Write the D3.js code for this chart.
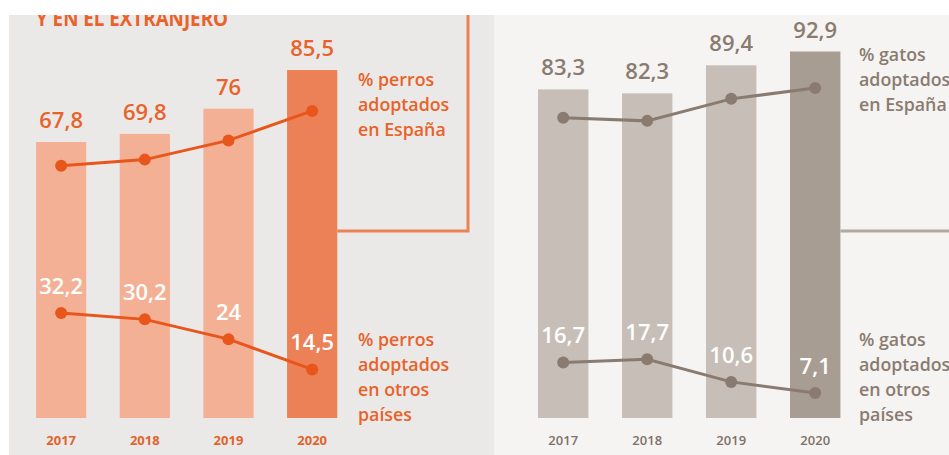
<!DOCTYPE html>
<html>
<head>
<meta charset="utf-8">
<script src="https://cdn.jsdelivr.net/npm/d3@7"></script>
<style>
    body { margin: 0; background: #ffffff; }
    svg text { font-family: "Open Sans", "Noto Sans", sans-serif; }
</style>
</head>
<body>
<div id="chart"></div>
<script>
var W = 949,
    H = 455;

// data
var years = ['2017', '2018', '2019', '2020'];
var perrosEspana = [67.8, 69.8, 76, 85.5];
var perrosOtros = [32.2, 30.2, 24, 14.5];
var gatosEspana = [83.3, 82.3, 89.4, 92.9];
var gatosOtros = [16.7, 17.7, 10.6, 7.1];
var legendEspana = ['adoptados', 'en España'];
var legendOtros = ['adoptados', 'en otros', 'países'];

var svg = d3.select("#chart").append("svg")
    .attr("width", W)
    .attr("height", H);

// panel backgrounds
svg.append("rect").attr("x", 9).attr("y", 0).attr("width", 485).attr("height", H).attr("fill", "#ebe9e7");
svg.append("rect").attr("x", 494).attr("y", 0).attr("width", W - 494).attr("height", H).attr("fill", "#f5f4f2");

// title, clipped at the top
svg.append("text")
    .attr("x", 36)
    .attr("y", 26)
    .attr("textLength", 192)
    .attr("lengthAdjust", "spacingAndGlyphs")
    .style("font-size", "22px")
    .style("font-weight", 700)
    .attr("fill", "#e8622a")
    .text("Y EN EL EXTRANJERO");

// line scales shared by both panels
var yHi = d3.scaleLinear().domain([0, 100]).range([376, 66]);
var yLo = d3.scaleLinear().domain([0, 100]).range([415.7, 96.7]);

/////////////////////////////////////////////////
//////////////// one panel //////////////////////
/////////////////////////////////////////////////
function panel(opt) {
    var x = d3.scaleBand()
        .domain(years)
        .range(opt.xRange)
        .paddingInner(0.4)
        .paddingOuter(0.2);
    var y = d3.scaleLinear().domain([0, 100]).range([418, opt.yTop]);

    var g = svg.append("g");
    var cx = function (d, i) { return x(years[i]) + x.bandwidth() / 2; };

    // bars
    g.selectAll("rect.bar")
        .data(opt.espana)
        .enter()
        .append("rect")
        .attr("x", function (d, i) { return x(years[i]); })
        .attr("y", function (d) { return y(d); })
        .attr("width", x.bandwidth())
        .attr("height", function (d) { return y(0) - y(d); })
        .attr("fill", function (d, i) { return i == 3 ? opt.barDark : opt.bar; });

    // top value labels
    g.selectAll("text.val")
        .data(opt.espana)
        .enter()
        .append("text")
        .attr("x", cx)
        .attr("y", function (d) { return y(d) - 14; })
        .attr("text-anchor", "middle")
        .style("font-size", "22px")
        .style("font-weight", 600)
        .attr("fill", opt.text)
        .text(function (d) { return String(d).replace('.', ','); });

    // lines
    [[opt.espana, yHi], [opt.otros, yLo]].forEach(function (s) {
        var line = d3.line()
            .x(cx)
            .y(function (d) { return s[1](d); });
        g.append("path")
            .datum(s[0])
            .attr("d", line)
            .attr("fill", "none")
            .attr("stroke", opt.line)
            .attr("stroke-width", 3);
        g.selectAll(null)
            .data(s[0])
            .enter()
            .append("circle")
            .attr("cx", cx)
            .attr("cy", function (d) { return s[1](d); })
            .attr("r", 6)
            .attr("fill", opt.line);
    });

    // white labels for the other-countries line
    g.selectAll(null)
        .data(opt.otros)
        .enter()
        .append("text")
        .attr("x", cx)
        .attr("y", function (d) { return yLo(d) - 19; })
        .attr("text-anchor", "middle")
        .style("font-size", "22px")
        .style("font-weight", 600)
        .attr("fill", "#ffffff")
        .text(function (d) { return String(d).replace('.', ','); });

    // years
    g.selectAll(null)
        .data(years)
        .enter()
        .append("text")
        .attr("x", function (d) { return x(d) + x.bandwidth() / 2; })
        .attr("y", 445)
        .attr("text-anchor", "middle")
        .style("font-size", "13px")
        .style("font-weight", opt.yearWeight)
        .attr("fill", opt.yearColor)
        .text(function (d) { return d; });

    // legends
    function legend(lines, y0) {
        var t = g.append("text")
            .attr("y", y0)
            .style("font-size", "17.8px")
            .style("font-weight", 600)
            .attr("fill", opt.text);
        lines.forEach(function (l, i) {
            t.append("tspan").attr("x", opt.legendX).attr("dy", i == 0 ? 0 : 25).text(l);
        });
    }
    legend([opt.legendTitle].concat(legendEspana), opt.legendY);
    legend([opt.legendTitle].concat(legendOtros), 346);

    return x;
}

var xl = panel({
    xRange: [19.3, 354],
    yTop: 11,
    espana: perrosEspana,
    otros: perrosOtros,
    bar: "#f4b094",
    barDark: "#ec8157",
    line: "#e8561c",
    text: "#e8622a",
    yearColor: "#e0642e",
    yearWeight: 700,
    legendX: 358,
    legendY: 86,
    legendTitle: "% perros"
});

var xr = panel({
    xRange: [521.2, 857.2],
    yTop: 23.5,
    espana: gatosEspana,
    otros: gatosOtros,
    bar: "#c6beb7",
    barDark: "#a89d93",
    line: "#8a7b70",
    text: "#8a7b70",
    yearColor: "#7d7168",
    yearWeight: 600,
    legendX: 859,
    legendY: 61,
    legendTitle: "% gatos"
});

// connector lines
svg.append("path")
    .attr("d", "M468,15 V231 H" + (xl('2020') + xl.bandwidth()))
    .attr("fill", "none")
    .attr("stroke", "#ec8157")
    .attr("stroke-width", 3);
svg.append("path")
    .attr("d", "M" + (xr('2020') + xr.bandwidth()) + ",231 H" + W)
    .attr("fill", "none")
    .attr("stroke", "#b3a89f")
    .attr("stroke-width", 3);

// white top band
svg.append("rect").attr("x", 0).attr("y", 0).attr("width", W).attr("height", 15).attr("fill", "#ffffff");
</script>
</body>
</html>
